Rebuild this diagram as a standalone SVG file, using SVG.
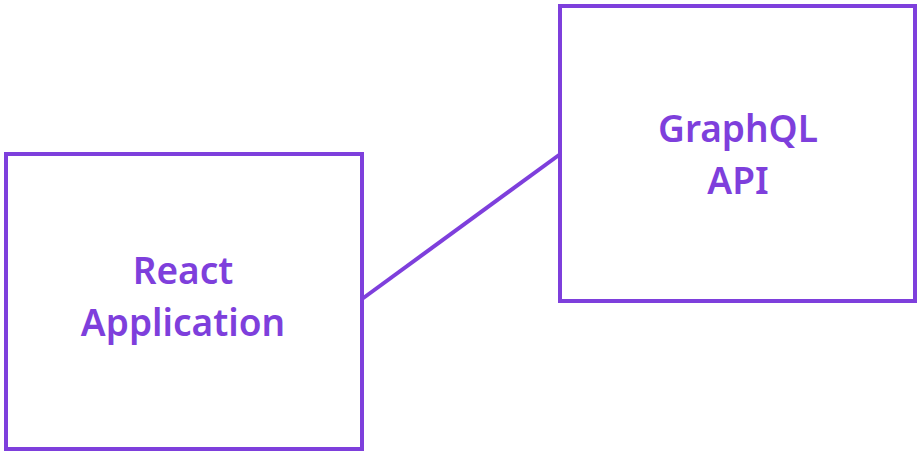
<svg xmlns="http://www.w3.org/2000/svg" width="922" height="454" viewBox="0 0 922 454">
<style>
.box{fill:#ffffff;stroke:#7e3fdc;stroke-width:4}
.lbl{font-family:"Noto Sans","Open Sans",sans-serif;font-weight:600;font-size:37px;fill:#7e3fdc;text-anchor:middle}
.edge{stroke:#7e3fdc;stroke-width:4;fill:none}
</style>
<rect width="922" height="454" fill="#ffffff"/>
<g id="connectors">
<line class="edge" x1="362" y1="299" x2="559" y2="155"/>
</g>
<g id="react">
<rect class="box" x="6" y="154" width="356" height="295"/>
<text class="lbl" x="183" y="284">React</text>
<text class="lbl" x="183" y="336">Application</text>
</g>
<g id="graphql">
<rect class="box" x="560" y="6" width="355" height="295"/>
<text class="lbl" x="738" y="142">GraphQL</text>
<text class="lbl" x="738" y="194">API</text>
</g>
</svg>
